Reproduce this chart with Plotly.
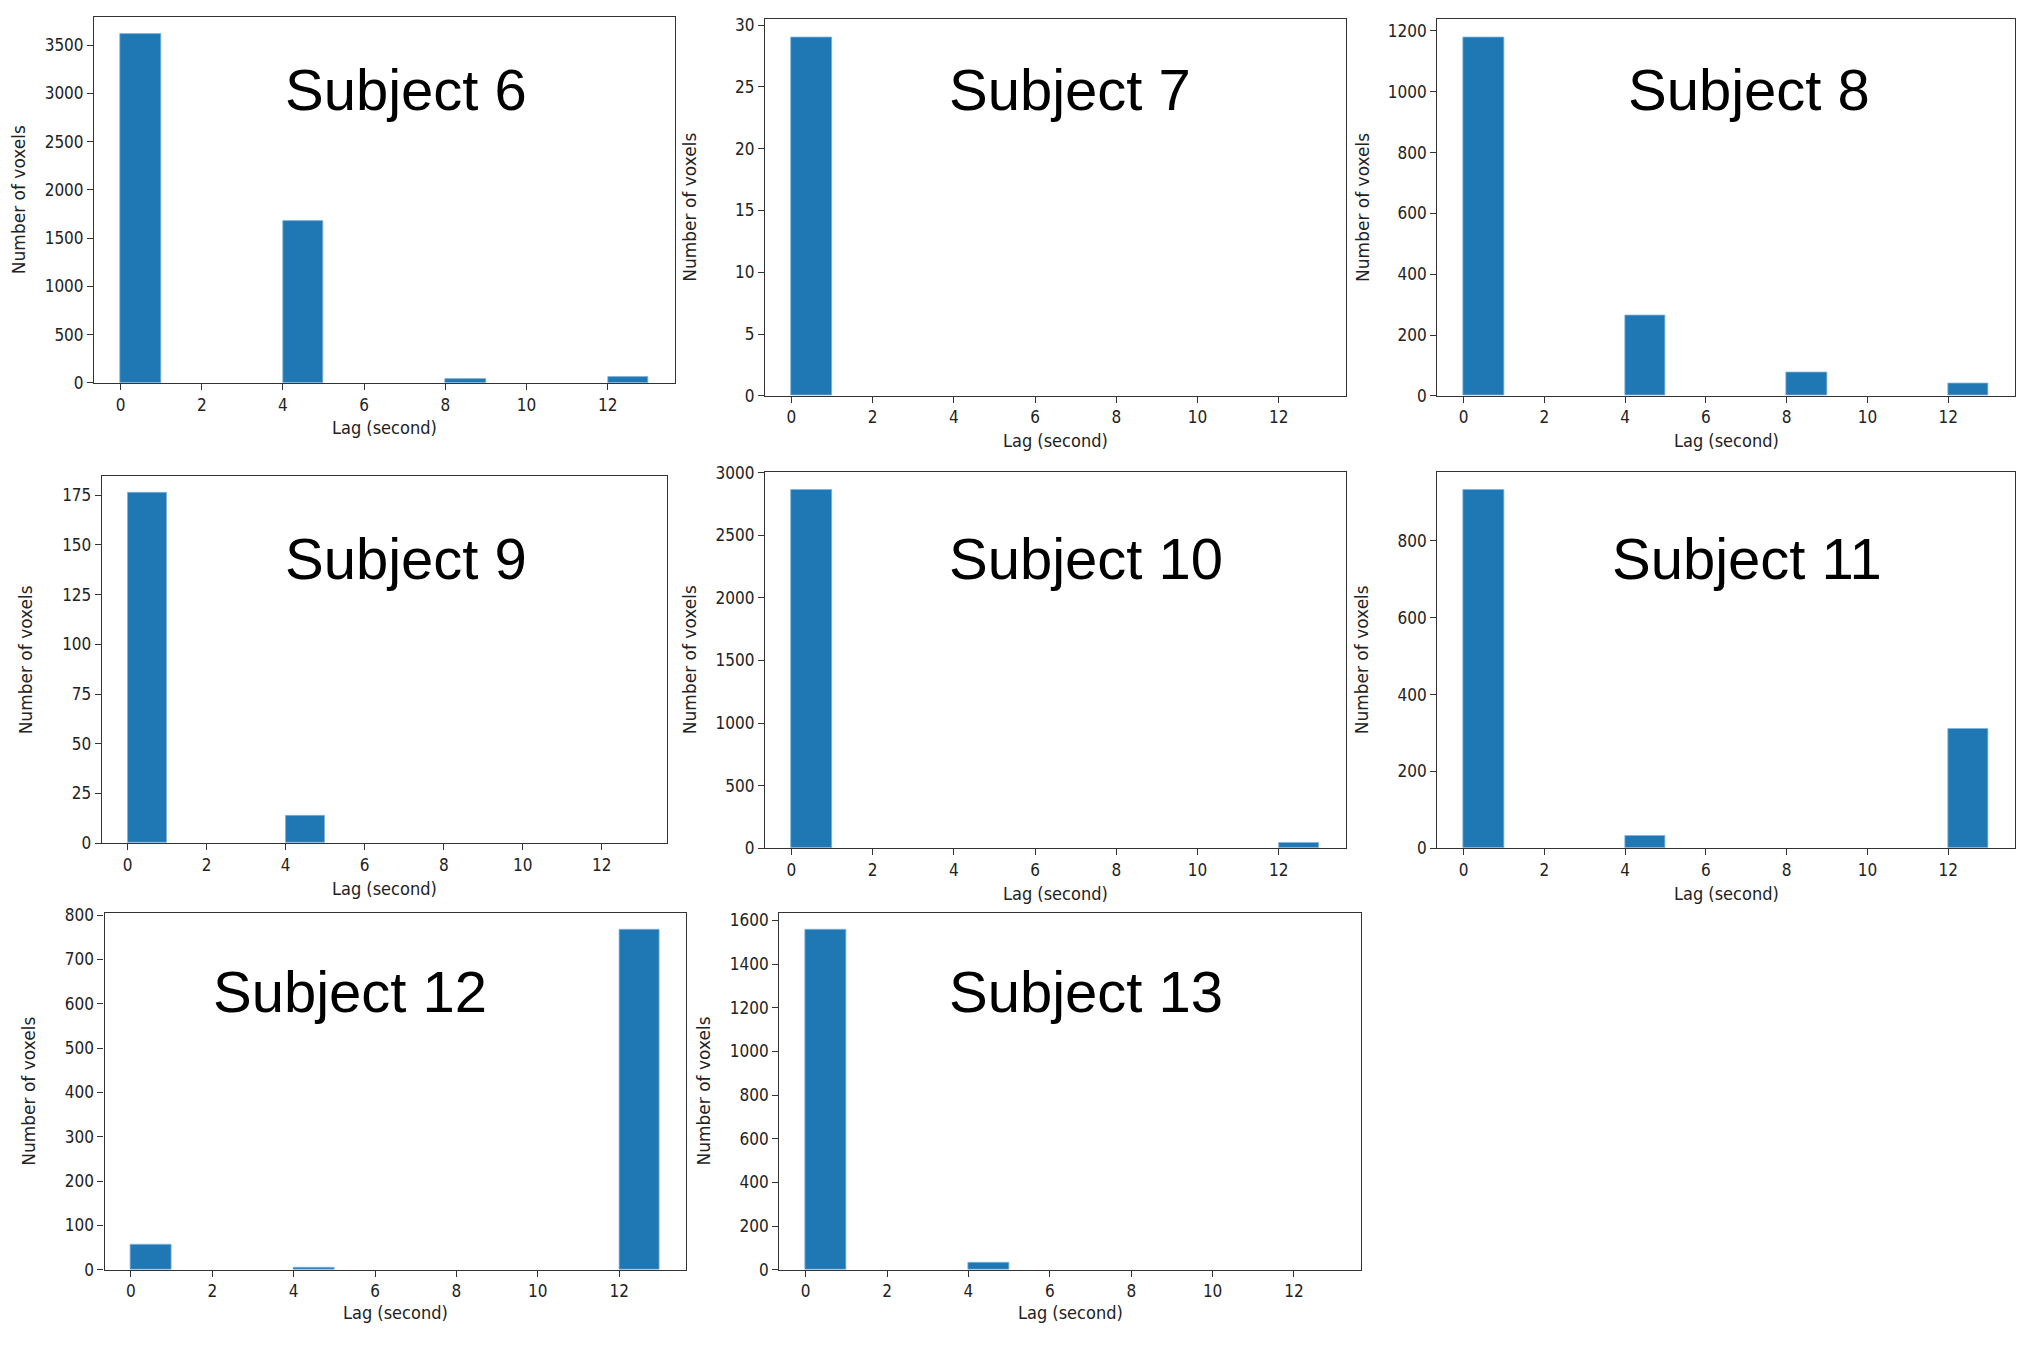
import plotly.graph_objects as go

# ---- data ----
lag_bins = [0, 4, 8, 12]          # left edge of each 1-second histogram bin
subject_names = ["Subject 6", "Subject 7", "Subject 8", "Subject 9",
                 "Subject 10", "Subject 11", "Subject 12", "Subject 13"]
subject6 = [3610, 1675, 40, 57]
subject7 = [29, 0, 0, 0]
subject8 = [1179, 264, 76, 41]
subject9 = [176, 14, 0, 0]
subject10 = [2863, 0, 0, 45]
subject11 = [933, 32, 0, 312]
subject12 = [57, 5, 0, 767]
subject13 = [1557, 33, 0, 0]
x_ticks = [0, 2, 4, 6, 8, 10, 12]
y_tick_steps = [500, 5, 200, 25, 500, 200, 100, 200]

counts = [subject6, subject7, subject8, subject9,
          subject10, subject11, subject12, subject13]

# ---- layout geometry ----
PAGE_W, PAGE_H = 2024, 1346
BODY_MARGIN = 8
W, H = PAGE_W - 2 * BODY_MARGIN, PAGE_H - 2 * BODY_MARGIN
RW, RH = 1568, 1045   # reference measured in this scale
# empirical vertical calibration of the rendered page
V_OFF, V_SCALE = 7.7, 0.985


def clamp(v):
    return min(1.0, max(0.0, v))


def fx(xd):
    return clamp((xd * PAGE_W / RW - BODY_MARGIN) / W)


def fy(yd):
    target = yd * PAGE_H / RH
    y_int = (target - V_OFF) / V_SCALE
    return clamp(1 - (y_int - BODY_MARGIN) / H)


panels = [  # x0, x1, y_bottom, y_top in reference display px
    (73, 523, 296, 4),
    (593, 1043, 306, 14),
    (1114, 1564, 306, 14),
    (79, 517, 653, 368),
    (593, 1043, 657, 365),
    (1114, 1564, 657, 365),
    (81, 532, 984, 707),
    (604, 1055, 984, 707),
]
xlabel_shift = [-45, -45, -45, -45, -45, -45, -43, -43]
label_pos = [(315, 68), (829, 68), (1356, 68), (315, 432),
             (842, 432), (1354, 432), (271, 768), (842, 768)]

BLUE = "#1f77b4"
TEXT = "#222222"
TICKFONT = dict(family="DejaVu Sans Condensed, Liberation Sans Narrow, DejaVu Sans",
                size=17, color=TEXT)

fig = go.Figure()
annotations = []
layout = {}

for i, vals in enumerate(counts):
    n = i + 1
    xa = "x" if n == 1 else f"x{n}"
    ya = "y" if n == 1 else f"y{n}"
    yvals = [v if v > 0 else None for v in vals]
    fig.add_trace(go.Bar(
        x=lag_bins, y=yvals, width=1, offset=0,
        marker=dict(color=BLUE, line=dict(color="#7fb2dc", width=0.8)),
        xaxis=xa, yaxis=ya, showlegend=False, hoverinfo="x+y",
    ))
    x0, x1, yb, yt = panels[i]
    ymax = max(vals) * 1.05
    step = y_tick_steps[i]
    yt_vals = list(range(0, int(ymax) + 1, step))
    axis_common = dict(
        showline=True, linecolor="#333333", linewidth=1.4, mirror=True,
        ticks="outside", ticklen=6, tickwidth=1.2, tickcolor="#333333",
        showgrid=False, zeroline=False, tickfont=TICKFONT,
    )
    layout["xaxis" if n == 1 else f"xaxis{n}"] = dict(
        domain=[fx(x0), fx(x1)], anchor=ya, range=[-0.65, 13.65],
        tickvals=x_ticks, **axis_common)
    layout["yaxis" if n == 1 else f"yaxis{n}"] = dict(
        domain=[fy(yb), fy(yt)], anchor=xa, range=[0, ymax],
        tickvals=yt_vals, **axis_common)

    dom_x = f"{xa} domain"
    dom_y = f"{ya} domain"
    annotations.append(dict(
        text="Lag (second)", xref=dom_x, yref=dom_y, x=0.5, y=0,
        yshift=xlabel_shift[i], showarrow=False, xanchor="center", yanchor="middle",
        font=dict(family="DejaVu Sans Condensed, DejaVu Sans", size=18, color=TEXT)))
    annotations.append(dict(
        text="Number of voxels", xref=dom_x, yref=dom_y, x=0, y=0.5,
        xshift=-75, textangle=-90, showarrow=False, xanchor="center", yanchor="middle",
        font=dict(family="DejaVu Sans", size=17, color=TEXT)))
    lx, ly = label_pos[i]
    annotations.append(dict(
        text=subject_names[i], xref="paper", yref="paper",
        x=fx(lx), y=fy(ly), showarrow=False,
        xanchor="center", yanchor="middle",
        font=dict(family="Liberation Sans, Arial", size=58, color="black")))

fig.update_layout(
    width=W, height=H,
    margin=dict(l=0, r=0, t=0, b=0),
    paper_bgcolor="white", plot_bgcolor="white",
    annotations=annotations,
    bargap=0,
    **layout,
)

fig.write_html("out.html")
